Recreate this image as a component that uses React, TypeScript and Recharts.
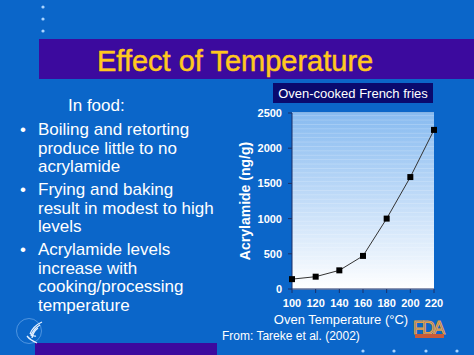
import {
  CartesianGrid,
  Line,
  LineChart,
  ReferenceArea,
  XAxis,
  YAxis,
} from "recharts";

const temperatures = [100, 120, 140, 160, 180, 200, 220];
const acrylamide = [140, 175, 265, 470, 1000, 1590, 2260];
const xTicks = [100, 120, 140, 160, 180, 200, 220];
const yTicks = [0, 500, 1000, 1500, 2000, 2500];

const bullets = [
  ["Boiling and retorting", "produce little to no", "acrylamide"],
  ["Frying and baking", "result in modest to high", "levels"],
  ["Acrylamide levels", "increase with", "cooking/processing", "temperature"],
];
const bulletTops = [135, 195, 255];

const data = temperatures.map((t, i) => ({ temp: t, value: acrylamide[i] }));

const FONT = "'Liberation Sans', Arial, sans-serif";
const SLIDE_BLUE = "#0b66c9";

function SquareDot(props: any) {
  const { cx, cy } = props;
  if (cx == null || cy == null) return null;
  return <rect x={cx - 3} y={cy - 3} width={6} height={6} fill="#000" />;
}

function Slide() {
  return (
    <svg
      width={474}
      height={355}
      style={{ position: "absolute", left: 0, top: 0 }}
      fontFamily={FONT}
    >
      <rect x={0} y={0} width={474} height={355} fill={SLIDE_BLUE} />
      {[7, 19, 31].map((y) => (
        <circle key={y} cx={43} cy={y} r={1.6} fill="#a9d4ff" />
      ))}
      <rect x={39} y={39} width={435} height={40} fill="#3c0a9e" />
      <text
        x={97}
        y={71}
        fontSize={29}
        fill="#ffc81e"
        stroke="#ffc81e"
        strokeWidth={0.5}
      >
        Effect of Temperature
      </text>

      <text x={68} y={111} fontSize={17} fill="#fff">
        In food:
      </text>
      {bullets.map((lines, b) => (
        <g key={b}>
          <text x={20} y={bulletTops[b]} fontSize={17} fill="#fff">
            •
          </text>
          {lines.map((line, i) => (
            <text
              key={i}
              x={38}
              y={bulletTops[b] + i * 18.7}
              fontSize={17}
              fill="#fff"
            >
              {line}
            </text>
          ))}
        </g>
      ))}

      <rect x={273} y={83} width={160} height={20} fill="#0a0a6e" />
      <text x={353} y={98} fontSize={13} fill="#fff" textAnchor="middle">
        Oven-cooked French fries
      </text>

      <text
        transform="translate(250,201) rotate(-90)"
        textAnchor="middle"
        fontSize={14}
        fontWeight="bold"
        fill="#fff"
      >
        Acrylamide (ng/g)
      </text>
      <text x={341} y={324} fontSize={13} fill="#fff" textAnchor="middle">
        Oven Temperature (°C)
      </text>

      <rect x={35} y={343} width={182} height={12} fill="#3c0a9e" />
      <text x={222} y={340} fontSize={12} fill="#fff">
        From: Tareke et al. (2002)
      </text>
      {[363, 394, 426, 457].map((x) => (
        <circle key={x} cx={x} cy={351} r={1.6} fill="#a9d4ff" />
      ))}

      {/* HHS logo */}
      <circle cx={29} cy={331} r={12.5} fill="none" stroke="#5f9fe4" strokeWidth={0.8} />
      <path
        d="M42 322 Q33 326 30 334 M40 325 Q33 329 31 336 M38 328 Q33 332 32 338 M27 336 Q30 340 37 343 M30 333 Q33 337 36 336"
        stroke="#e8f2ff"
        strokeWidth={1.3}
        fill="none"
      />

      {/* FDA logo */}
      <text
        x={413}
        y={334}
        fontSize={18}
        fill="#5a7fc0"
        stroke="#e8a040"
        strokeWidth={1}
        textLength={32}
      >
        FDA
      </text>
      <rect x={415} y={334} width={29} height={4} fill="#c85a3a" />
    </svg>
  );
}

export default function App() {
  return (
    <div
      style={{
        position: "fixed",
        left: 0,
        top: 0,
        width: 474,
        height: 355,
        overflow: "hidden",
        background: SLIDE_BLUE,
      }}
    >
      <Slide />
      <div style={{ position: "absolute", left: 230, top: 80 }}>
        <LineChart
          width={244}
          height={240}
          data={data}
          margin={{ top: 33, right: 40, left: 0, bottom: 0 }}
        >
          <defs>
            <linearGradient id="plotBg" x1="0" y1="0" x2="0" y2="1">
              <stop offset="0%" stopColor="#88bbf0" />
              <stop offset="50%" stopColor="#c2dcf8" />
              <stop offset="100%" stopColor="#ffffff" />
            </linearGradient>
            <pattern id="bands" width={4} height={4.4} patternUnits="userSpaceOnUse">
              <rect x={0} y={0} width={4} height={0.7} fill="#ffffff" />
            </pattern>
          </defs>
          <ReferenceArea
            x1={100}
            x2={220}
            y1={0}
            y2={2500}
            fill="url(#plotBg)"
            fillOpacity={1}
            stroke="none"
            ifOverflow="visible"
          />
          <ReferenceArea
            x1={100}
            x2={220}
            y1={0}
            y2={2500}
            fill="url(#bands)"
            fillOpacity={0.25}
            stroke="none"
            ifOverflow="visible"
          />
          <CartesianGrid vertical={false} stroke="#ffffff" strokeWidth={1.2} />
          <XAxis
            dataKey="temp"
            type="number"
            domain={[100, 220]}
            ticks={xTicks}
            interval={0}
            height={31}
            tickSize={4}
            tickMargin={6}
            axisLine={{ stroke: "#1c2f66" }}
            tickLine={{ stroke: "#1c2f66" }}
            tick={{ fill: "#fff", fontSize: 11, fontWeight: "bold", fontFamily: FONT }}
          />
          <YAxis
            type="number"
            domain={[0, 2500]}
            ticks={yTicks}
            interval={0}
            width={62}
            tickSize={4}
            tickMargin={6}
            axisLine={{ stroke: "#1c2f66" }}
            tickLine={{ stroke: "#1c2f66" }}
            tick={{ fill: "#fff", fontSize: 11, fontWeight: "bold", fontFamily: FONT }}
          />
          <Line
            type="linear"
            dataKey="value"
            stroke="#333"
            strokeWidth={1}
            dot={<SquareDot />}
            isAnimationActive={false}
          />
        </LineChart>
      </div>
    </div>
  );
}
